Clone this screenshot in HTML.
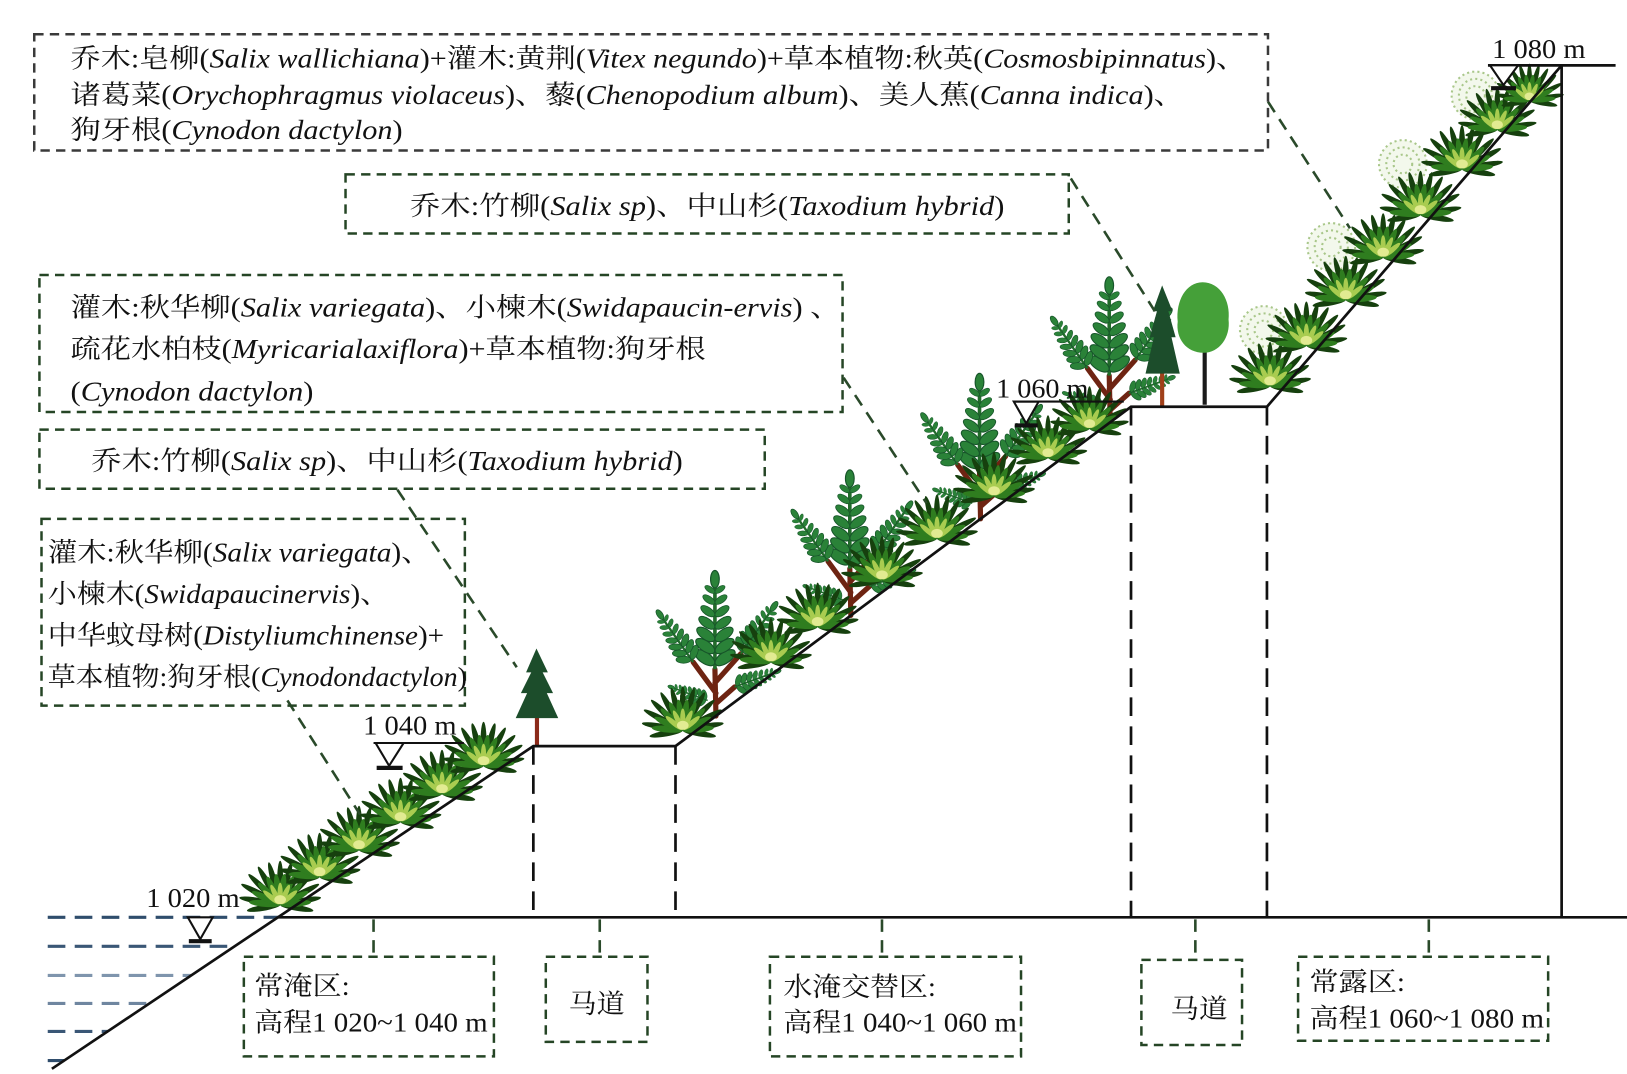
<!DOCTYPE html>
<html><head><meta charset="utf-8"><style>
html,body{margin:0;padding:0;background:#fff;}
svg{display:block;}
text{font-family:"Liberation Serif","Noto Serif CJK SC",serif;fill:#111;}
</style></head><body>
<svg width="1627" height="1074" viewBox="0 0 1568 1035" preserveAspectRatio="none" xmlns="http://www.w3.org/2000/svg" xmlns:xlink="http://www.w3.org/1999/xlink">
<defs>
 <g id="g">
  <g fill="#16400e">
   <ellipse cx="0" cy="-13" rx="2.3" ry="13" transform="rotate(-100)"/>
   <ellipse cx="0" cy="-13" rx="2.3" ry="13" transform="rotate(100)"/>
   <ellipse cx="0" cy="-16" rx="2.4" ry="16" transform="rotate(-80)"/>
   <ellipse cx="0" cy="-17" rx="2.4" ry="17" transform="rotate(-62)"/>
   <ellipse cx="0" cy="-17" rx="2.4" ry="17" transform="rotate(-46)"/>
   <ellipse cx="0" cy="-17" rx="2.4" ry="17" transform="rotate(-30)"/>
   <ellipse cx="0" cy="-17" rx="2.4" ry="17" transform="rotate(-15)"/>
   <ellipse cx="0" cy="-17" rx="2.4" ry="17" transform="rotate(0)"/>
   <ellipse cx="0" cy="-17" rx="2.4" ry="17" transform="rotate(15)"/>
   <ellipse cx="0" cy="-17" rx="2.4" ry="17" transform="rotate(30)"/>
   <ellipse cx="0" cy="-17" rx="2.4" ry="17" transform="rotate(46)"/>
   <ellipse cx="0" cy="-17" rx="2.4" ry="17" transform="rotate(62)"/>
   <ellipse cx="0" cy="-16" rx="2.4" ry="16" transform="rotate(80)"/>
  </g>
  <g fill="#2f7d1f">
   <ellipse cx="0" cy="-12" rx="2.6" ry="12" transform="rotate(-85)"/>
   <ellipse cx="0" cy="-12" rx="2.6" ry="12" transform="rotate(-65)"/>
   <ellipse cx="0" cy="-12" rx="2.6" ry="12" transform="rotate(-45)"/>
   <ellipse cx="0" cy="-12" rx="2.6" ry="12" transform="rotate(-25)"/>
   <ellipse cx="0" cy="-12" rx="2.6" ry="12" transform="rotate(-8)"/>
   <ellipse cx="0" cy="-12" rx="2.6" ry="12" transform="rotate(8)"/>
   <ellipse cx="0" cy="-12" rx="2.6" ry="12" transform="rotate(25)"/>
   <ellipse cx="0" cy="-12" rx="2.6" ry="12" transform="rotate(45)"/>
   <ellipse cx="0" cy="-12" rx="2.6" ry="12" transform="rotate(65)"/>
   <ellipse cx="0" cy="-12" rx="2.6" ry="12" transform="rotate(85)"/>
  </g>
  <g fill="#a9cc50">
   <ellipse cx="0" cy="-9" rx="2" ry="8" transform="rotate(-50)"/>
   <ellipse cx="0" cy="-9" rx="2" ry="8" transform="rotate(-25)"/>
   <ellipse cx="0" cy="-9" rx="2" ry="8" transform="rotate(0)"/>
   <ellipse cx="0" cy="-9" rx="2" ry="8" transform="rotate(25)"/>
   <ellipse cx="0" cy="-9" rx="2" ry="8" transform="rotate(50)"/>
  </g>
  <ellipse cx="0" cy="-4" rx="4.5" ry="3.5" fill="#e2eb92"/>
 </g>
 <g id="lp" fill="#2a8238" stroke="#17552a" stroke-width="0.8">
  <ellipse cx="-7" cy="0" rx="8" ry="3.8" transform="rotate(35 -7 0)"/>
  <ellipse cx="7" cy="0" rx="8" ry="3.8" transform="rotate(-35 7 0)"/>
 </g>
 <g id="p">
  <path d="M0 0 V-62" stroke="#216b2a" stroke-width="2.5"/>
  <use xlink:href="#lp" transform="translate(0,-8)"/>
  <use xlink:href="#lp" transform="translate(0,-16) scale(0.95)"/>
  <use xlink:href="#lp" transform="translate(0,-24) scale(0.9)"/>
  <use xlink:href="#lp" transform="translate(0,-32) scale(0.8)"/>
  <use xlink:href="#lp" transform="translate(0,-40) scale(0.7)"/>
  <use xlink:href="#lp" transform="translate(0,-48) scale(0.6)"/>
  <use xlink:href="#lp" transform="translate(0,-55) scale(0.5)"/>
  <ellipse cx="0" cy="-62" rx="3" ry="6" fill="#2a8238" stroke="#17552a" stroke-width="0.8"/>
 </g>
 <g id="s">
  <path d="M0 0 L-1 -45 M0 -22 L-22 -52 M-1 -32 L24 -60 M0 -12 L18 -28" stroke="#6e2412" stroke-width="5" fill="none" stroke-linecap="round"/>
  <use xlink:href="#p" transform="translate(-1,-45) scale(1.4)"/>
  <use xlink:href="#p" transform="translate(-22,-52) rotate(-35) scale(0.9)"/>
  <use xlink:href="#p" transform="translate(24,-60) rotate(35) scale(0.9)"/>
  <use xlink:href="#p" transform="translate(18,-28) rotate(70) scale(0.7)"/>
  <use xlink:href="#p" transform="translate(-8,-15) rotate(-70) scale(0.6)"/>
 </g>
 <g id="k">
  <circle r="23" fill="#f3f8ec"/>
  <g fill="none" stroke="#a9c78a" stroke-width="2" stroke-dasharray="2 3">
   <circle r="23"/><circle r="16"/><circle r="9"/>
  </g>
 </g>
</defs>

<!-- water dashes -->
<g stroke-width="3" stroke-dasharray="17 9">
 <line x1="46" y1="884" x2="268" y2="884" stroke="#2f4d6c"/>
 <line x1="46" y1="912" x2="226" y2="912" stroke="#3a5776"/>
 <line x1="46" y1="940" x2="184" y2="940" stroke="#7f95ad"/>
 <line x1="46" y1="967" x2="144" y2="967" stroke="#6f86a0"/>
 <line x1="46" y1="994" x2="104" y2="994" stroke="#3a5776"/>
 <line x1="46" y1="1022" x2="62" y2="1022" stroke="#2f4d6c"/>
</g>

<!-- cosmos -->
<use xlink:href="#k" transform="translate(1218,318)"/>
<use xlink:href="#k" transform="translate(1283,238)"/>
<use xlink:href="#k" transform="translate(1352,158)"/>
<use xlink:href="#k" transform="translate(1422,92)"/>

<!-- shrubs -->
<use xlink:href="#s" transform="translate(690,690)"/>
<use xlink:href="#s" transform="translate(820,593)"/>
<use xlink:href="#s" transform="translate(945,500)"/>
<use xlink:href="#s" transform="translate(1070,407)"/>

<!-- grass slope 1 -->
<use xlink:href="#g" transform="translate(270,872) scale(1.25)"/>
<use xlink:href="#g" transform="translate(308,845) scale(1.25)"/>
<use xlink:href="#g" transform="translate(346,819) scale(1.25)"/>
<use xlink:href="#g" transform="translate(386,792) scale(1.25)"/>
<use xlink:href="#g" transform="translate(426,765) scale(1.25)"/>
<use xlink:href="#g" transform="translate(466,738) scale(1.25)"/>
<!-- grass slope 2 -->
<use xlink:href="#g" transform="translate(658,704) scale(1.25)"/>
<use xlink:href="#g" transform="translate(743,638) scale(1.25)"/>
<use xlink:href="#g" transform="translate(788,604) scale(1.25)"/>
<use xlink:href="#g" transform="translate(850,559) scale(1.25)"/>
<use xlink:href="#g" transform="translate(903,519) scale(1.25)"/>
<use xlink:href="#g" transform="translate(958,478) scale(1.25)"/>
<use xlink:href="#g" transform="translate(1010,441) scale(1.2)"/>
<use xlink:href="#g" transform="translate(1050,413) scale(1.2)"/>
<!-- grass slope 3 -->
<use xlink:href="#g" transform="translate(1224,372) scale(1.25)"/>
<use xlink:href="#g" transform="translate(1259,333) scale(1.25)"/>
<use xlink:href="#g" transform="translate(1297,289) scale(1.25)"/>
<use xlink:href="#g" transform="translate(1333,248) scale(1.25)"/>
<use xlink:href="#g" transform="translate(1369,207) scale(1.25)"/>
<use xlink:href="#g" transform="translate(1409,163) scale(1.25)"/>
<use xlink:href="#g" transform="translate(1443,125) scale(1.2)"/>
<use xlink:href="#g" transform="translate(1474,97) scale(1.05)"/>

<!-- conifer 1 -->
<rect x="515.5" y="688" width="4" height="31" fill="#8b2a1a"/>
<polygon points="517,625 507,648 512,648 502,668 508,668 497,692 538,692 527,668 533,668 523,648 528,648" fill="#1c4d2b"/>
<!-- conifer 2 -->
<rect x="1118" y="355" width="4" height="37" fill="#a0401a"/>
<polygon points="1120,275 1111,300 1115,300 1108,325 1112,325 1104,360 1137,360 1129,325 1133,325 1126,300 1130,300" fill="#1c4d2b"/>
<!-- round tree -->
<line x1="1161" y1="325" x2="1161" y2="390" stroke="#1a1a1a" stroke-width="4"/>
<path d="M1159 272 C1176 272 1186 290 1184 308 C1186 325 1175 340 1160 340 C1143 340 1133 326 1135 310 C1133 290 1143 272 1159 272 Z" fill="#45a039"/>

<!-- main black lines -->
<g stroke="#111" stroke-width="2.6" fill="none">
 <polyline points="50,1030 514,719 651,719 1090,392 1221,392 1505,63"/>
 <line x1="268" y1="884" x2="1568" y2="884"/>
 <line x1="1434" y1="63" x2="1557" y2="63"/>
 <line x1="1505" y1="63" x2="1505" y2="884"/>
</g>
<g stroke="#111" stroke-width="2.6" stroke-dasharray="18 10">
 <line x1="514" y1="719" x2="514" y2="884"/>
 <line x1="651" y1="719" x2="651" y2="884"/>
 <line x1="1090" y1="392" x2="1090" y2="884"/>
 <line x1="1221" y1="392" x2="1221" y2="884"/>
</g>

<!-- water level markers -->
<g stroke="#111" stroke-width="2" fill="#fff">
 <polygon points="181,884 205,884 193,905"/>
 <polygon points="362,716 389,716 375,738"/>
 <polygon points="977,387 1001,387 989,408"/>
 <polygon points="1436,63 1463,63 1449,82"/>
 <line x1="360" y1="716" x2="447" y2="716"/>
 <line x1="977" y1="387" x2="1083" y2="387"/>
</g>
<g stroke="#111" stroke-width="4">
 <line x1="182" y1="907" x2="204" y2="907"/>
 <line x1="363" y1="740" x2="388" y2="740"/>
 <line x1="978" y1="410" x2="1000" y2="410"/>
 <line x1="1437" y1="85" x2="1461" y2="85"/>
</g>

<!-- elevation labels -->
<g font-size="26">
 <text x="141" y="874" textLength="90" lengthAdjust="spacingAndGlyphs">1 020 m</text>
 <text x="350" y="708" textLength="90" lengthAdjust="spacingAndGlyphs">1 040 m</text>
 <text x="960" y="383" textLength="89" lengthAdjust="spacingAndGlyphs">1 060 m</text>
 <text x="1438" y="56" textLength="90" lengthAdjust="spacingAndGlyphs">1 080 m</text>
</g>

<!-- connector dashed lines -->
<g stroke="#2a4a2a" stroke-width="2.5" stroke-dasharray="12 8" fill="none">
 <line x1="1222" y1="98" x2="1301" y2="220"/>
 <line x1="1032" y1="172" x2="1113" y2="300"/>
 <line x1="813" y1="364" x2="893" y2="485"/>
 <line x1="383" y1="472" x2="498" y2="643"/>
 <line x1="277" y1="675" x2="347" y2="785"/>
 <line x1="360" y1="886" x2="360" y2="922"/>
 <line x1="578" y1="886" x2="578" y2="922"/>
 <line x1="850" y1="886" x2="850" y2="922"/>
 <line x1="1152" y1="886" x2="1152" y2="925"/>
 <line x1="1377" y1="886" x2="1377" y2="922"/>
</g>

<!-- boxes -->
<g fill="none" stroke-width="2.4" stroke-dasharray="9 6">
 <rect x="33" y="33" width="1189" height="112" stroke="#3a3a3a"/>
 <rect x="333" y="168" width="697" height="57" stroke="#254525"/>
 <rect x="38" y="265" width="774" height="132" stroke="#254525"/>
 <rect x="38" y="414" width="699" height="57" stroke="#254525"/>
 <rect x="40" y="500" width="408" height="180" stroke="#254525"/>
 <rect x="235" y="922" width="241" height="96" stroke="#254525"/>
 <rect x="526" y="922" width="98" height="82" stroke="#254525"/>
 <rect x="742" y="922" width="242" height="96" stroke="#254525"/>
 <rect x="1100" y="925" width="97" height="82" stroke="#254525"/>
 <rect x="1251" y="922" width="241" height="81" stroke="#254525"/>
</g>

<!-- box texts -->
<g font-size="26">
 <text x="68" y="65" textLength="1133" lengthAdjust="spacingAndGlyphs">乔木:皂柳(<tspan font-style="italic">Salix wallichiana</tspan>)+灌木:黄荆(<tspan font-style="italic">Vitex negundo</tspan>)+草本植物:秋英(<tspan font-style="italic">Cosmosbipinnatus</tspan>)、</text>
 <text x="68" y="100" textLength="1073" lengthAdjust="spacingAndGlyphs">诸葛菜(<tspan font-style="italic">Orychophragmus violaceus</tspan>)、藜(<tspan font-style="italic">Chenopodium album</tspan>)、美人蕉(<tspan font-style="italic">Canna indica</tspan>)、</text>
 <text x="68" y="134" textLength="320" lengthAdjust="spacingAndGlyphs">狗牙根(<tspan font-style="italic">Cynodon dactylon</tspan>)</text>

 <text x="395" y="207" textLength="573" lengthAdjust="spacingAndGlyphs">乔木:竹柳(<tspan font-style="italic">Salix sp</tspan>)、中山杉(<tspan font-style="italic">Taxodium hybrid</tspan>)</text>

 <text x="68" y="305" textLength="742" lengthAdjust="spacingAndGlyphs">灌木:秋华柳(<tspan font-style="italic">Salix variegata</tspan>)、小楝木(<tspan font-style="italic">Swidapaucin-ervis</tspan>) 、</text>
 <text x="68" y="345" textLength="612" lengthAdjust="spacingAndGlyphs">疏花水柏枝(<tspan font-style="italic">Myricarialaxiflora</tspan>)+草本植物:狗牙根</text>
 <text x="68" y="386" textLength="234" lengthAdjust="spacingAndGlyphs">(<tspan font-style="italic">Cynodon dactylon</tspan>)</text>

 <text x="88" y="453" textLength="570" lengthAdjust="spacingAndGlyphs">乔木:竹柳(<tspan font-style="italic">Salix sp</tspan>)、中山杉(<tspan font-style="italic">Taxodium hybrid</tspan>)</text>

 <text x="46" y="541" textLength="369" lengthAdjust="spacingAndGlyphs">灌木:秋华柳(<tspan font-style="italic">Salix variegata</tspan>)、</text>
 <text x="46" y="581" textLength="329" lengthAdjust="spacingAndGlyphs">小楝木(<tspan font-style="italic">Swidapaucinervis</tspan>)、</text>
 <text x="46" y="621" textLength="382" lengthAdjust="spacingAndGlyphs">中华蚊母树(<tspan font-style="italic">Distyliumchinense</tspan>)+</text>
 <text x="46" y="661" textLength="404" lengthAdjust="spacingAndGlyphs">草本植物:狗牙根(<tspan font-style="italic">Cynodondactylon</tspan>)</text>

 <text x="245" y="959" textLength="92" lengthAdjust="spacingAndGlyphs">常淹区:</text>
 <text x="245" y="994" textLength="225" lengthAdjust="spacingAndGlyphs">高程1 020~1 040 m</text>
 <text x="548" y="976" textLength="54" lengthAdjust="spacingAndGlyphs">马道</text>
 <text x="755" y="960" textLength="147" lengthAdjust="spacingAndGlyphs">水淹交替区:</text>
 <text x="755" y="994" textLength="225" lengthAdjust="spacingAndGlyphs">高程1 040~1 060 m</text>
 <text x="1128" y="981" textLength="55" lengthAdjust="spacingAndGlyphs">马道</text>
 <text x="1262" y="955" textLength="92" lengthAdjust="spacingAndGlyphs">常露区:</text>
 <text x="1262" y="990" textLength="226" lengthAdjust="spacingAndGlyphs">高程1 060~1 080 m</text>
</g>
</svg>
</body></html>
